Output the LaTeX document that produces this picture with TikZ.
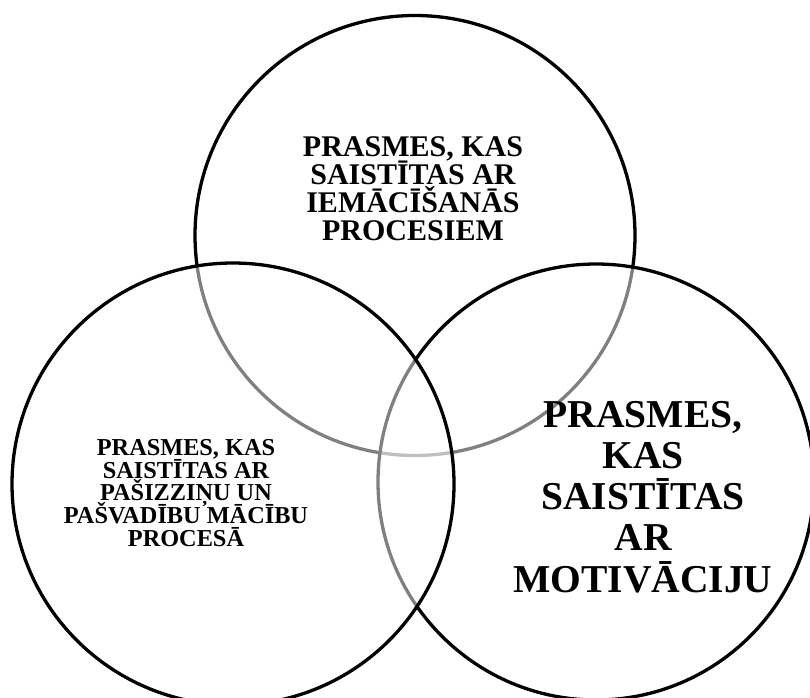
\documentclass[tikz,border=0pt]{standalone}
\usepackage{fontspec}
\setmainfont{Liberation Serif}
\newcommand\mytightlines{\lineskiplimit=-100pt\relax}
\begin{document}
\begin{tikzpicture}[x=1pt,y=-1pt,
  venn/.style={draw=black,line width=3.3pt,fill=white,fill opacity=0.5},
  lbl/.style={text=black,align=center,inner sep=0pt,text opacity=1}]
\useasboundingbox (0,0) rectangle (810,697);
\clip (0,0) rectangle (810,697);
\fill[white] (0,0) rectangle (810,697);
% circles: top, right, left (order matters for the greyed arcs)
\path[venn] (415,235.5) circle[radius=220];
\path[venn] (596,482) circle[radius=218];
\path[venn] (233,484) circle[radius=221];
% labels
\node[lbl,font={\fontsize{30}{28}\selectfont\bfseries\mytightlines}] (top) at (413,189)
  {PRASMES, KAS\\SAISTĪTAS AR\\IEMĀCĪŠANĀS\\PROCESIEM};
\node[lbl,font={\fontsize{24.3}{22.8}\selectfont\bfseries\mytightlines}] (left) at (186,493)
  {PRASMES, KAS\\SAISTĪTAS AR\\PAŠIZZIŅU UN\\PAŠVADĪBU MĀCĪBU\\PROCESĀ};
\node[lbl,font={\fontsize{39.5}{41.2}\selectfont\bfseries\mytightlines}] (right) at (643,497)
  {PRASMES,\\KAS\\SAISTĪTAS\\AR\\MOTIVĀCIJU};
\end{tikzpicture}
\end{document}
